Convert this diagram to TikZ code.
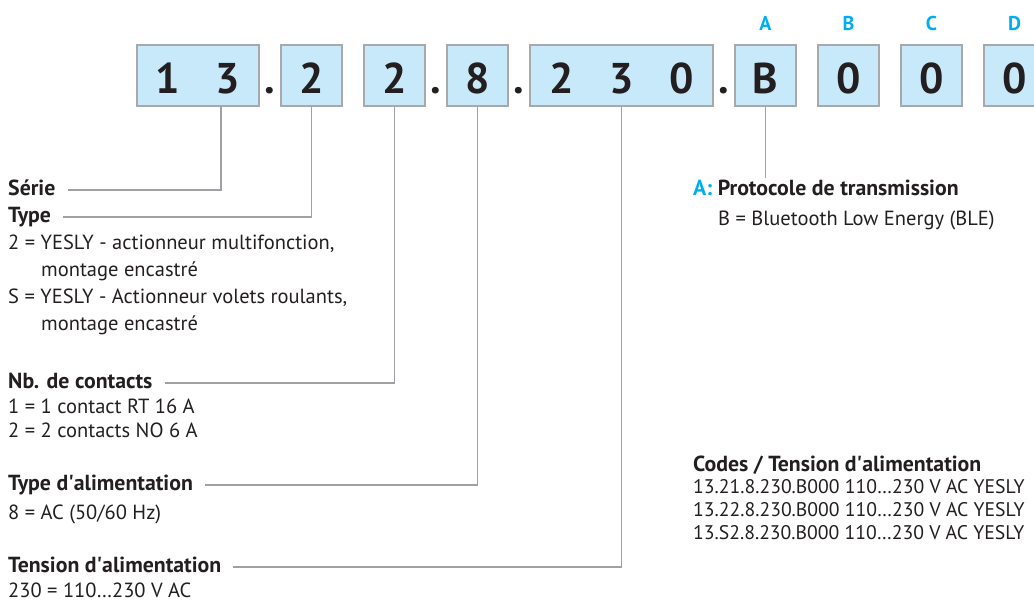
\documentclass[tikz,border=0pt]{standalone}
\usepackage{fontspec}
\setmainfont{PT Sans}
\usetikzlibrary{positioning,calc}
\definecolor{CellBg}{HTML}{C8E9F9}
\definecolor{CellRule}{HTML}{A7A9AC}
\definecolor{LeadGray}{HTML}{9FA1A4}
\definecolor{CodeCyan}{HTML}{00AEEF}
\definecolor{Ink}{HTML}{231F20}

\begin{document}
\begin{tikzpicture}[x=1pt, y=-1pt, node distance=22pt, text=Ink,
  cell/.style={draw=CellRule, fill=CellBg, line width=1.2pt, minimum width=61pt,
               minimum height=61pt, inner sep=0pt, outer sep=0pt,
               text height=35pt, text depth=0pt,
               font=\bfseries\fontsize{43}{43}\selectfont},
  sep/.style={anchor=base, inner sep=0pt, font=\bfseries\fontsize{43}{43}\selectfont},
  letter/.style={inner sep=0pt, text depth=0pt, text=CodeCyan,
                 font=\bfseries\fontsize{20}{20}\selectfont},
  hd/.style={anchor=base west, inner sep=0pt, font=\bfseries\fontsize{21.8}{24}\selectfont},
  desc/.style={anchor=base west, inner sep=0pt, font=\fontsize{20.5}{24}\selectfont},
  codeline/.style={desc, font=\fontsize{19.7}{24}\selectfont},
  lead/.style={draw=LeadGray, line width=1.1pt}]
  \useasboundingbox (0,0) rectangle (1034,603);
  % code cells
  \node[cell, minimum width=122pt] (serie) at (198,75.5)
    {\makebox[60pt]{1}\makebox[60pt]{3}};
  \node[cell, right=of serie] (type) {2};
  \node[cell, right=of type] (contacts) {2};
  \node[cell, right=of contacts] (alim) {8};
  \node[cell, minimum width=183pt, right=of alim] (tension)
    {\makebox[60pt]{2}\makebox[60pt]{3}\makebox[60pt]{0}};
  \node[cell, right=of tension] (protocole) {B};
  \node[cell, right=of protocole] (codeB) {0};
  \node[cell, right=of codeB] (codeC) {0};
  \node[cell, right=of codeC] (codeD) {0};
  % separators
  \node[sep] (dot1) at ($(serie.east)!.5!(type.west) + (0,17.5)$) {.};
  \node[sep] (dot2) at ($(contacts.east)!.5!(alim.west) + (0,17.5)$) {.};
  \node[sep] (dot3) at ($(alim.east)!.5!(tension.west) + (0,17.5)$) {.};
  \node[sep] (dot4) at ($(tension.east)!.5!(protocole.west) + (0,17.5)$) {.};
  % letters
  \node[letter, above=14pt of protocole] (kA) {A};
  \node[letter, above=14pt of codeB] (kB) {B};
  \node[letter, above=14pt of codeC] (kC) {C};
  \node[letter, above=14pt of codeD] (kD) {D};

  % left column
  \node[hd] (lSerie) at (8,195) {Série};
  \node[hd] (lType) at (8,222) {Type};
  \node[desc] (t2a) at (8,249) {2 = YESLY - actionneur multifonction,};
  \node[desc] (t2b) at (41,276) {montage encastré};
  \node[desc] (tSa) at (8,303) {S = YESLY - Actionneur volets roulants,};
  \node[desc] (tSb) at (41,330) {montage encastré};
  \node[hd] (lNb) at (8,388) {Nb. de contacts};
  \node[desc] (n1) at (8,413) {1 = 1 contact RT 16 A};
  \node[desc] (n2) at (8,437) {2 = 2 contacts NO 6 A};
  \node[hd] (lAlim) at (8,490) {Type d\textquotesingle alimentation};
  \node[desc] (a8) at (8,519) {8 = AC (50/60 Hz)};
  \node[hd] (lTension) at (8,572) {Tension d\textquotesingle alimentation};
  \node[desc] (v230) at (8,597) {230 = 110…230 V AC};

  % right column
  \node[hd] (protoHead) at (693,195) {\textcolor{CodeCyan}{A:} Protocole de transmission};
  \node[desc] (protoB) at (718,225) {B = Bluetooth Low Energy (BLE)};
  \node[hd] (codesHead) at (693,471) {Codes / Tension d\textquotesingle alimentation};
  \node[codeline] (code1) at (693,493) {13.21.8.230.B000 110…230 V AC YESLY};
  \node[codeline] (code2) at (693,516) {13.22.8.230.B000 110…230 V AC YESLY};
  \node[codeline] (code3) at (693,539) {13.S2.8.230.B000 110…230 V AC YESLY};

  % leaders
  \coordinate (serieTap) at ([xshift=23pt]serie.south);
  \coordinate (protoEnd) at ([yshift=-72pt]protocole.south);
  \draw[lead] (serieTap) |- ([xshift=12pt,yshift=5pt]lSerie.base east);
  \draw[lead] (type.south) |- ([xshift=12pt,yshift=5pt]lType.base east);
  \draw[lead] (contacts.south) |- ([xshift=12pt,yshift=5pt]lNb.base east);
  \draw[lead] (alim.south) |- ([xshift=12pt,yshift=5pt]lAlim.base east);
  \draw[lead] (tension.south) |- ([xshift=12pt,yshift=5pt]lTension.base east);
  \draw[lead] (protocole.south) -- (protoEnd);
\end{tikzpicture}
\end{document}
